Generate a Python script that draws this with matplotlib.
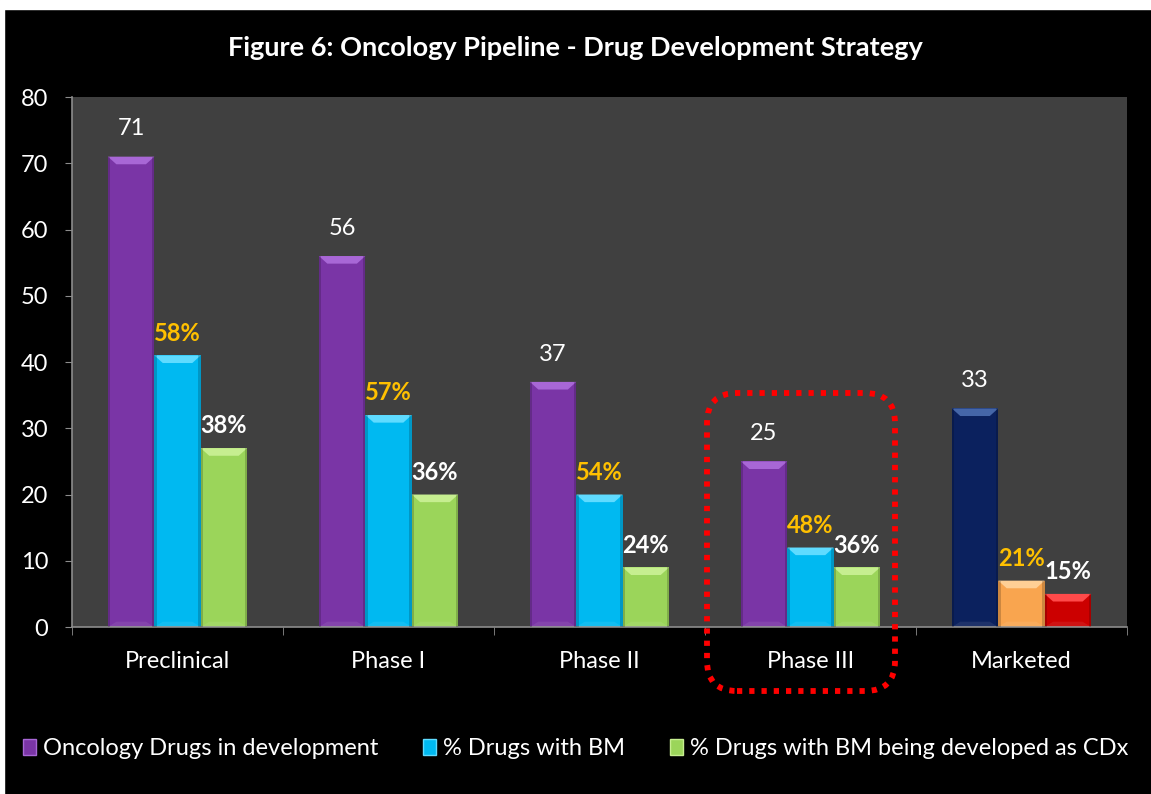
import matplotlib.pyplot as plt
import matplotlib.patches as mpatches
import numpy as np

plt.rcParams['font.family'] = ['Lato', 'DejaVu Sans']

categories = ['Preclinical', 'Phase I', 'Phase II', 'Phase III', 'Marketed']
drugs = [71, 56, 37, 25, 33]
drugs_bm = [41, 32, 20, 12, 7]
drugs_cdx = [27, 20, 9, 9, 5]
pct_bm = ['58%', '57%', '54%', '48%', '21%']
pct_cdx = ['38%', '36%', '24%', '36%', '15%']
series_names = ['Oncology Drugs in development', '% Drugs with BM',
                '% Drugs with BM being developed as CDx']

# (face, light bevel) per series; the marketed group has its own colours
colors = [('#7A35A6', '#A867D6'), ('#00B9F1', '#5FDBFF'), ('#9BD55A', '#C6EE90')]
market_colors = [('#0B215E', '#4566A8'), ('#F9A54F', '#FFCF95'), ('#CC0000', '#FF4A4A')]

fig = plt.figure(figsize=(11.51, 7.94), dpi=100, facecolor='black')
ax = fig.add_axes([0.0626, 0.2103, 0.9165, 0.6675])
ax.set_facecolor('#404040')

width = 0.22
x = np.arange(len(categories))
series = [drugs, drugs_bm, drugs_cdx]


def bevel_bar(xc, h, face, light):
    """bar with a lighter bevelled cap and darker side edges"""
    left = xc - width / 2
    ax.bar(xc, h, width, color=face, zorder=2)
    bh = min(1.15, h * 0.5)
    dx = 0.04
    top = mpatches.Polygon([[left, h], [left + width, h],
                            [left + width - dx, h - bh], [left + dx, h - bh]],
                           closed=True, color=light, zorder=3, lw=0)
    ax.add_patch(top)
    bot = mpatches.Polygon([[left, 0], [left + width, 0],
                            [left + width - dx, bh * 0.7], [left + dx, bh * 0.7]],
                           closed=True, color='white', alpha=0.08, zorder=3, lw=0)
    ax.add_patch(bot)
    for sx in (left, left + width - 0.012):
        ax.add_patch(mpatches.Rectangle((sx, 0), 0.012, h, color='black',
                                        alpha=0.18, zorder=3, lw=0))


for i in range(len(categories)):
    pal = market_colors if categories[i] == 'Marketed' else colors
    for j, vals in enumerate(series):
        bevel_bar(x[i] + (j - 1) * width, vals[i], pal[j][0], pal[j][1])

    ax.annotate(str(drugs[i]), (x[i] - width, drugs[i]), xytext=(0, 20),
                textcoords='offset points', ha='center', va='center',
                color='white', fontsize=17)
    ax.annotate(pct_bm[i], (x[i], drugs_bm[i]), xytext=(0, 16),
                textcoords='offset points', ha='center', va='center',
                color='#FFC000', fontsize=17, fontweight='bold')
    ax.annotate(pct_cdx[i], (x[i] + width, drugs_cdx[i]), xytext=(0, 16),
                textcoords='offset points', ha='center', va='center',
                color='white', fontsize=17, fontweight='bold')

ax.set_xlim(-0.5, len(categories) - 0.5)
ax.set_ylim(0, 80)
ax.set_yticks(range(0, 81, 10))
ax.set_xticks(x)
ax.set_xticklabels(categories)
ax.set_xticks(np.arange(-0.5, len(categories)), minor=True)
ax.tick_params(axis='x', which='major', length=0, pad=17, labelsize=17, labelcolor='white')
ax.tick_params(axis='x', which='minor', length=6, color='#8C8C8C', direction='out')
ax.tick_params(axis='y', length=5, color='#8C8C8C', pad=12, labelsize=17, labelcolor='white')
for s in ['top', 'right']:
    ax.spines[s].set_visible(False)
for s in ['left', 'bottom']:
    ax.spines[s].set_color('#8C8C8C')
    ax.spines[s].set_linewidth(1.2)
ax.set_axisbelow(False)

fig.text(0.5, 0.94, 'Figure 6: Oncology Pipeline - Drug Development Strategy',
         ha='center', va='center', color='white', fontsize=19.5, fontweight='bold')

# highlight box round the Phase III group
box = mpatches.FancyBboxPatch((7.07, 1.03), 1.88, 2.98,
                              boxstyle='round,pad=0,rounding_size=0.3',
                              transform=fig.dpi_scale_trans, fill=False,
                              edgecolor='#FF0000', linewidth=4.2,
                              linestyle=(0, (0.9, 1.2)), zorder=10)
fig.add_artist(box)

handles = [mpatches.Patch(facecolor=c[0], edgecolor=c[1], linewidth=1.0) for c in colors]
leg = fig.legend(handles, series_names, loc='center', bbox_to_anchor=(0.5, 0.057),
                 ncol=3, frameon=False, fontsize=17, handlelength=0.55,
                 handleheight=0.65, handletextpad=0.3, columnspacing=1.9)
for t in leg.get_texts():
    t.set_color('white')

# white margin along the top and left edges
fig.patches.append(mpatches.Rectangle((0, 0.989), 1, 0.011, transform=fig.transFigure,
                                      color='white', zorder=20))
fig.patches.append(mpatches.Rectangle((0, 0), 0.0035, 1, transform=fig.transFigure,
                                      color='white', zorder=20))

fig.savefig('out.png', dpi=100, facecolor='black')
